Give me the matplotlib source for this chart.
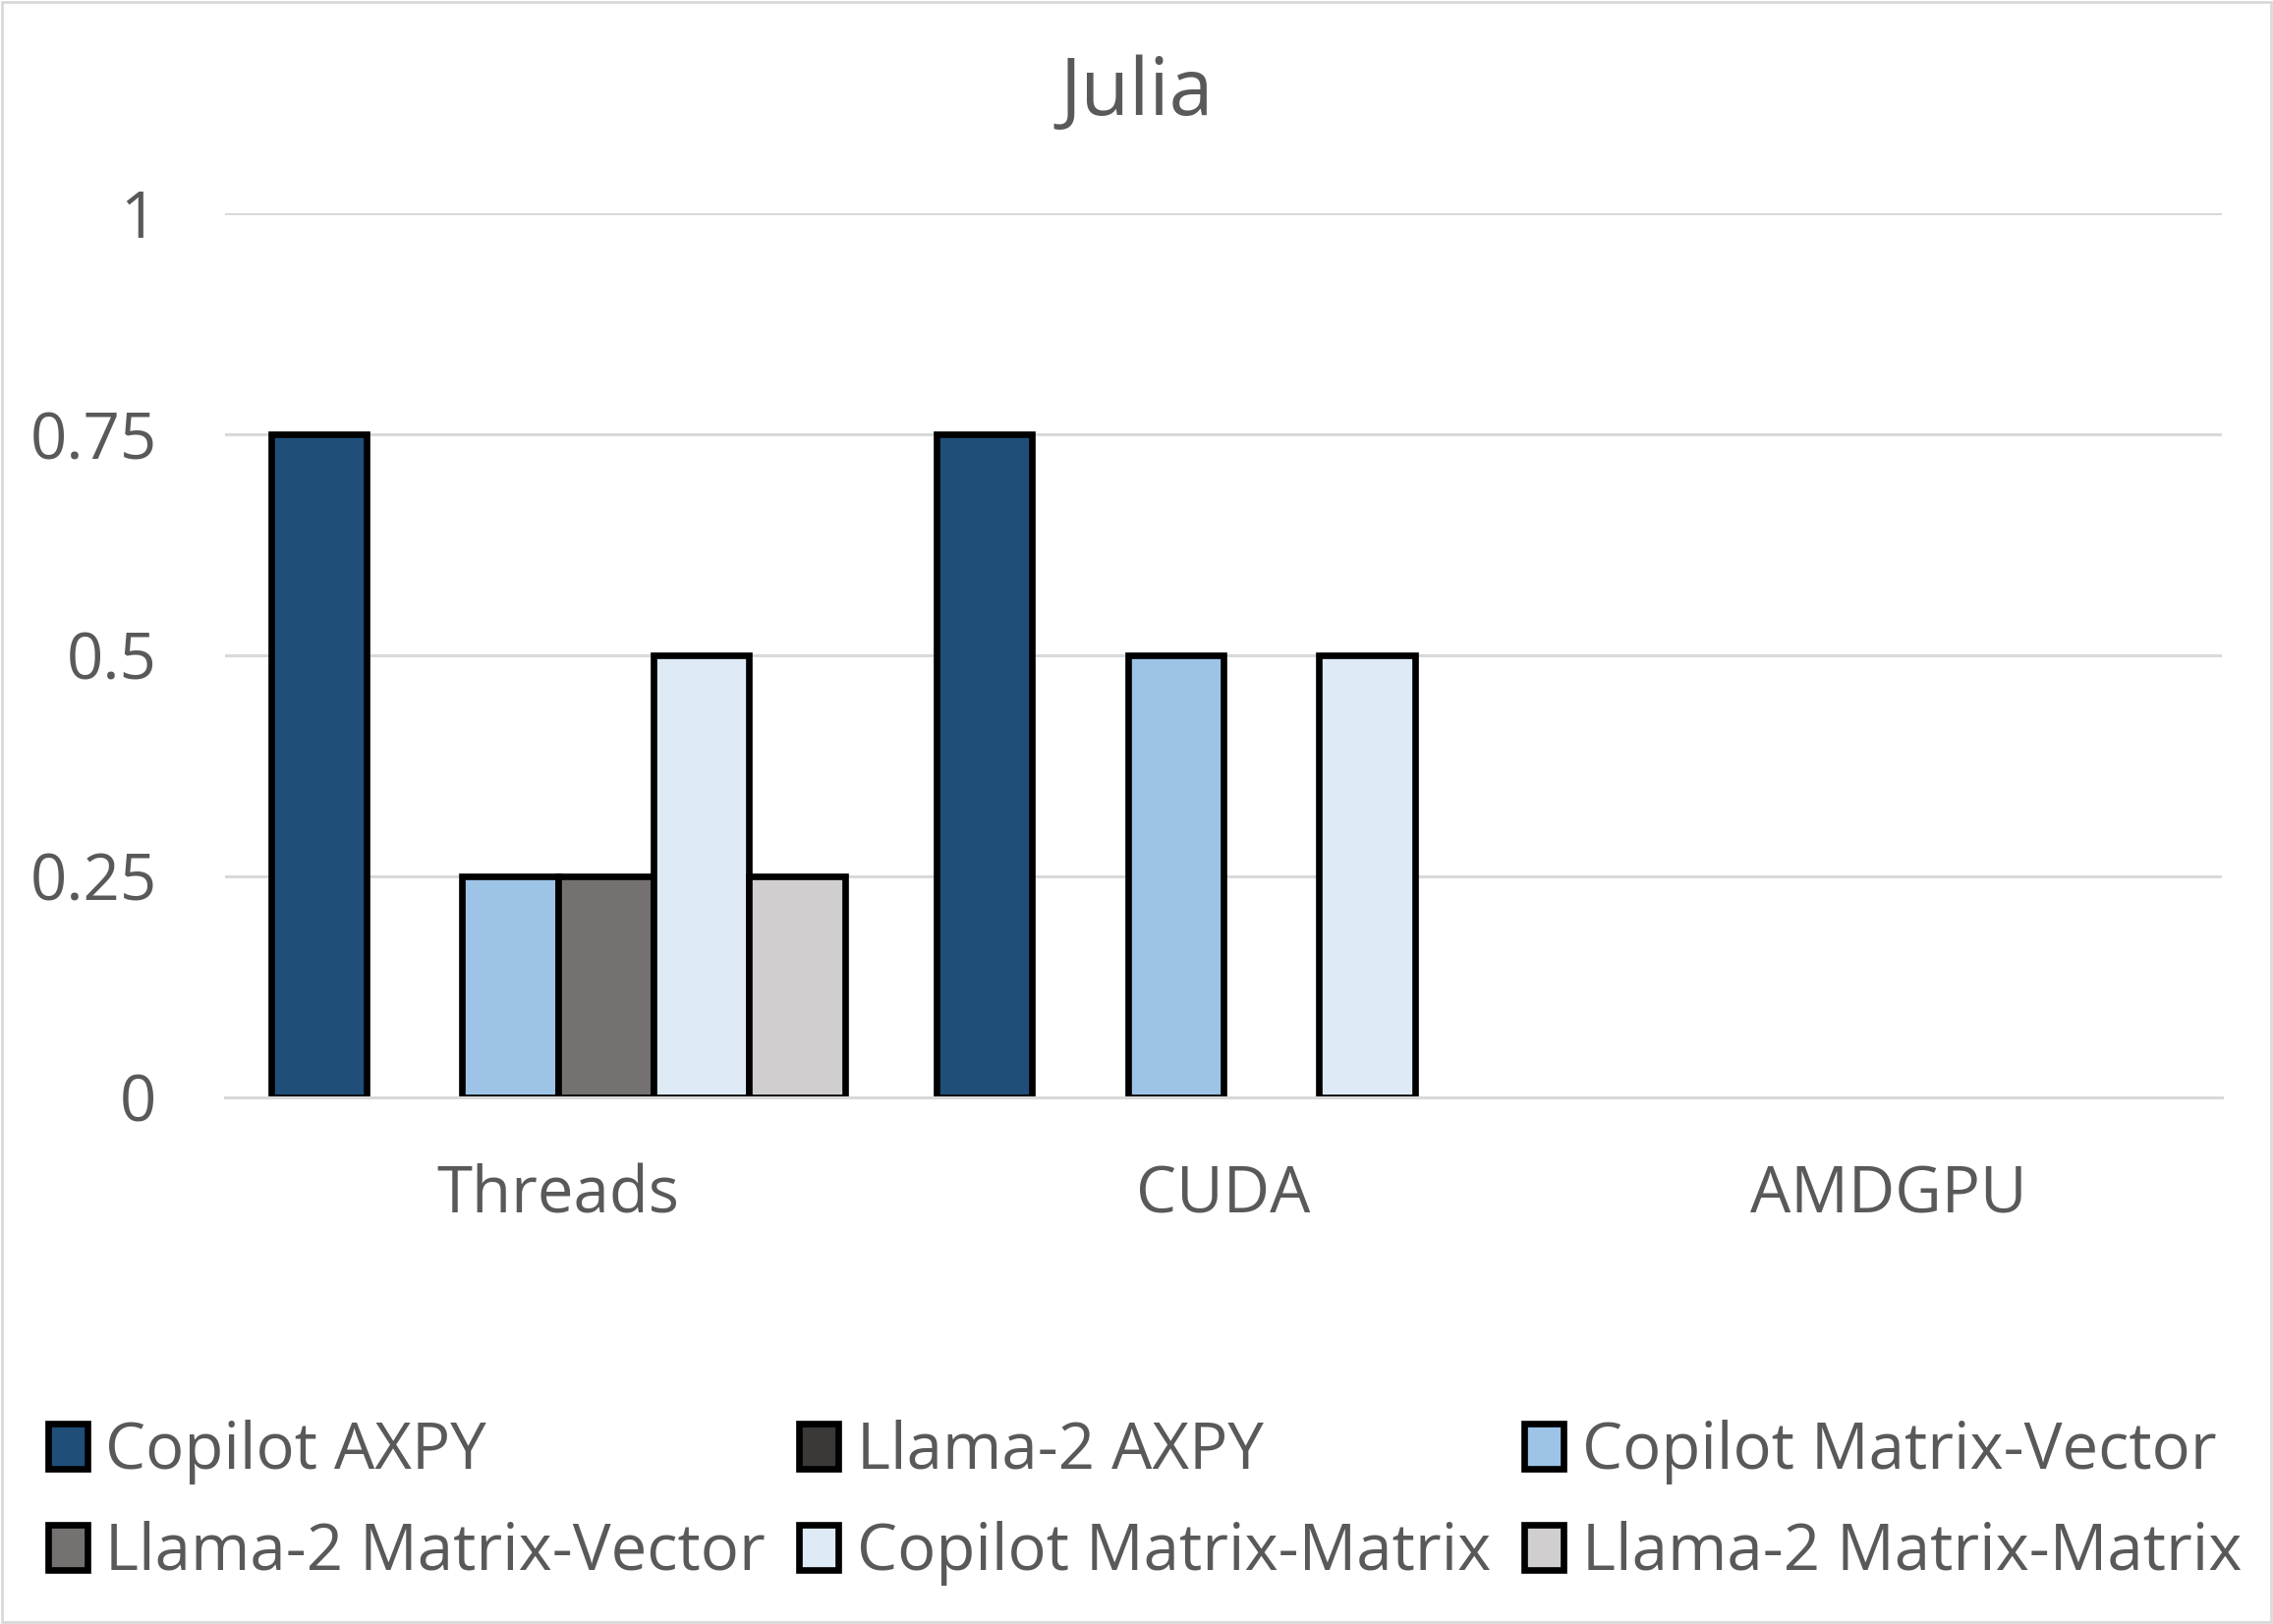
"""
Julia — fraction of correct kernels per backend (Copilot vs Llama-2).

Output:
    out.png
"""
import matplotlib
matplotlib.use('Agg')
import matplotlib.pyplot as plt
from matplotlib.patches import Rectangle
import numpy as np

plt.rcParams['font.family'] = ['Open Sans', 'DejaVu Sans']

TITLE = 'Julia'
CATEGORIES = ['Threads', 'CUDA', 'AMDGPU']
SERIES = [
    'Copilot AXPY',
    'Llama-2 AXPY',
    'Copilot Matrix-Vector',
    'Llama-2 Matrix-Vector',
    'Copilot Matrix-Matrix',
    'Llama-2 Matrix-Matrix',
]
# one list per series, values for Threads / CUDA / AMDGPU
COPILOT_AXPY = [0.75, 0.75, 0.0]
LLAMA_AXPY = [0.0, 0.0, 0.0]
COPILOT_MV = [0.25, 0.5, 0.0]
LLAMA_MV = [0.25, 0.0, 0.0]
COPILOT_MM = [0.5, 0.5, 0.0]
LLAMA_MM = [0.25, 0.0, 0.0]
Y_TICKS = [0, 0.25, 0.5, 0.75, 1]
Y_TICK_LABELS = ['0', '0.25', '0.5', '0.75', '1']

COLORS = ['#1F4E79', '#3B3838', '#9DC3E6', '#767171', '#DEEBF7', '#D0CECE']
TEXT_COLOR = '#595959'
GRID_COLOR = '#D9D9D9'
BAR_WIDTH = 0.1437
EDGE_LW = 4.8
FONT_SIZE = 47


def main():
    values = [COPILOT_AXPY, LLAMA_AXPY, COPILOT_MV, LLAMA_MV, COPILOT_MM, LLAMA_MM]

    fig = plt.figure(figsize=(23.13, 16.53), dpi=100)
    ax = fig.add_axes([0.099, 0.3243, 0.8785, 0.5444])

    x = np.arange(len(CATEGORIES))
    n = len(SERIES)
    handles = []
    for i, (label, vals, color) in enumerate(zip(SERIES, values, COLORS)):
        offs = (i - (n - 1) / 2) * BAR_WIDTH
        # Excel does not draw zero bars at all
        lws = [EDGE_LW if v > 0 else 0 for v in vals]
        ax.bar(x + offs, vals, BAR_WIDTH, color=color, edgecolor='black',
               linewidth=lws, label=label)
        handles.append(Rectangle((0, 0), 1, 1, facecolor=color, edgecolor='black',
                                 linewidth=EDGE_LW))

    ax.set_xlim(-0.5, len(CATEGORIES) - 0.5)
    ax.set_ylim(0, 1)
    ax.set_xticks(x)
    ax.set_xticklabels(CATEGORIES)
    ax.set_yticks(Y_TICKS)
    ax.set_yticklabels(Y_TICK_LABELS)
    ax.tick_params(axis='both', length=0, labelsize=FONT_SIZE, labelcolor=TEXT_COLOR)
    ax.tick_params(axis='y', pad=50)
    ax.tick_params(axis='x', pad=49)

    ax.set_axisbelow(True)
    ax.grid(axis='y', color=GRID_COLOR, linewidth=2.2)
    for side in ('top', 'left', 'right'):
        ax.spines[side].set_visible(False)
    ax.spines['bottom'].set_color(GRID_COLOR)
    ax.spines['bottom'].set_linewidth(2.2)

    fig.text(0.5, 0.942, TITLE, ha='center', va='center', fontsize=58, color=TEXT_COLOR)

    # legend is row-major in the original, matplotlib fills column-major
    order = [0, 3, 1, 4, 2, 5]
    fig.legend([handles[k] for k in order], [SERIES[k] for k in order],
               loc='upper left', bbox_to_anchor=(0.021, 0.126), ncol=3,
               frameon=False, fontsize=FONT_SIZE, labelcolor=TEXT_COLOR,
               handlelength=0.62, handleheight=0.7, handletextpad=0.28,
               columnspacing=0.52, labelspacing=0.57, borderpad=0, borderaxespad=0)

    # light chart-area border
    fig.patches.append(Rectangle((0.001, 0.001), 0.998, 0.998, transform=fig.transFigure,
                                 fill=False, edgecolor=GRID_COLOR, linewidth=2))

    fig.savefig('out.png', dpi=100)
    plt.close(fig)


if __name__ == '__main__':
    main()
